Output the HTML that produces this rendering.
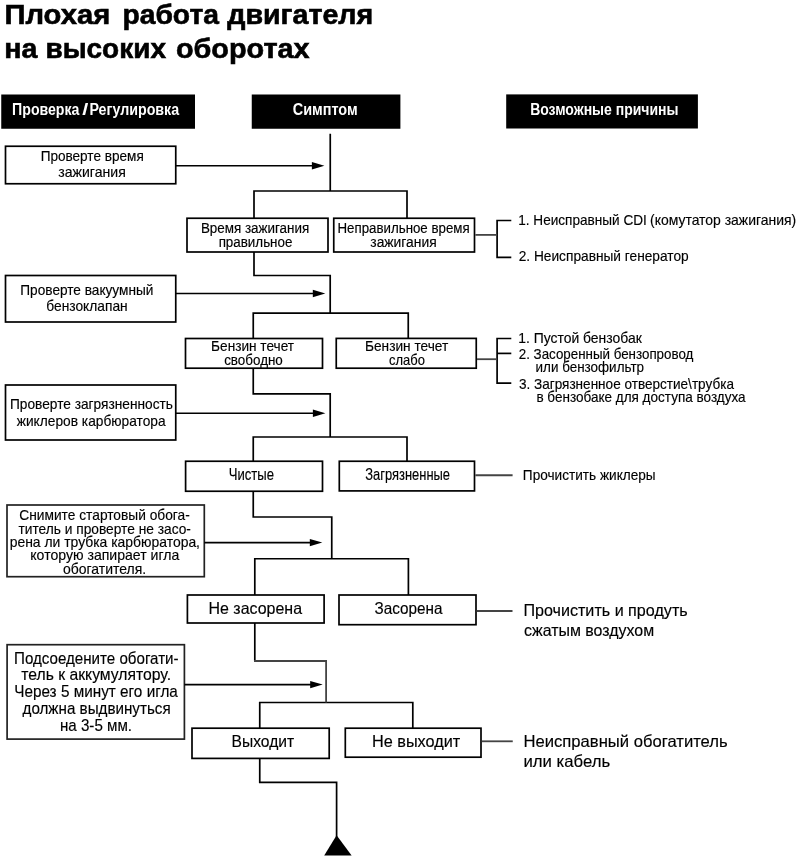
<!DOCTYPE html>
<html lang="ru">
<head>
<meta charset="utf-8">
<title>Плохая работа двигателя на высоких оборотах</title>
<style>
html,body{margin:0;padding:0;background:#fff;}
body{width:800px;height:857px;overflow:hidden;font-family:"Liberation Sans",sans-serif;}
svg{display:block;filter:grayscale(1);}
text{font-family:"Liberation Sans",sans-serif;}
</style>
</head>
<body>
<svg width="800" height="857" viewBox="0 0 800 857">
<rect x="0" y="0" width="800" height="857" fill="#fff"/>
<g fill="#000" stroke="none">
<rect x="1.25" y="94.5" width="193.75" height="34.25"/>
<rect x="251.75" y="94.5" width="148.65" height="34.25"/>
<rect x="506.2" y="94.4" width="191.70" height="34.10"/>
</g>
<g fill="#fff" stroke="#000" stroke-width="1.7">
<rect x="5.5" y="146.25" width="170.25" height="37.50"/>
<rect x="5.5" y="275.5" width="170.25" height="46.50"/>
<rect x="5.5" y="385" width="170.25" height="55.00"/>
<rect x="7.0" y="505" width="197.30" height="71.70" stroke="#222"/>
<rect x="7.1" y="644.7" width="177.30" height="94.40" stroke="#222"/>
<rect x="187" y="218.25" width="141.00" height="33.75"/>
<rect x="333.75" y="218.25" width="140.75" height="33.75"/>
<rect x="185.5" y="338.5" width="137.00" height="29.70"/>
<rect x="336.25" y="338.4" width="140.00" height="29.80"/>
<rect x="185.6" y="461.25" width="136.90" height="30.00"/>
<rect x="339.3" y="461.25" width="135.20" height="29.65"/>
<rect x="187.4" y="595" width="136.70" height="28.00"/>
<rect x="339.0" y="595" width="137.00" height="29.70"/>
<rect x="192.0" y="728.2" width="137.20" height="30.20"/>
<rect x="345.3" y="728.2" width="135.70" height="29.00"/>
</g>
<g fill="none" stroke="#000" stroke-width="1.7" stroke-linejoin="miter">
<polyline points="330.25,133.75 330.25,191"/>
<polyline points="254,218.25 254,191 407,191 407,218.25"/>
<polyline points="254,252 254,275.5 330.2,275.5 330.2,313.1"/>
<polyline points="253.25,338.5 253.25,313.1 408.25,313.1 408.25,338.4"/>
<polyline points="253.25,368 253.25,393.9 330.2,393.9 330.2,437"/>
<polyline points="253.25,461.25 253.25,437 407,437 407,461.25"/>
<polyline points="253.25,491.25 253.25,517 331.75,517 331.75,558.75"/>
<polyline points="254.8,595 254.8,558.75 408.4,558.75 408.4,595"/>
<polyline points="254.8,623 254.8,661"/>
<polyline points="259.75,728.2 259.75,702.5 412.8,702.5 412.8,728.2"/>
<polyline points="259.75,758.4 259.75,782.3 336.6,782.3 336.6,837"/>
<polyline points="175.75,165.75 314,165.75"/>
<polyline points="175.75,293.5 314,293.5"/>
<polyline points="175.75,413.25 314,413.25"/>
<polyline points="204.3,542.6 311,542.6"/>
<polyline points="184.4,684.6 311,684.6"/>
<polyline points="511.3,220.5 497.1,220.5 497.1,257.3 511.3,257.3"/>
<polyline points="511.3,338.5 497.1,338.5 497.1,383.1 511.3,383.1"/>
<polyline points="497.1,353.4 511.3,353.4"/>
</g>
<g fill="none" stroke="#444" stroke-width="1.8">
<polyline points="254,661 326.1,661 326.1,702.5"/>
<polyline points="475.3,234.9 497.1,234.9"/>
<polyline points="477.0,359.2 497.1,359.2"/>
<polyline points="475.3,475.25 512.6,475.25"/>
<polyline points="476.8,611 512.5,611"/>
<polyline points="481.8,741.3 512.75,741.3"/>
</g>
<g fill="#000" stroke="none">
<polygon points="324.4,165.75 311.9,162.05 311.9,169.45"/>
<polygon points="325.3,293.5 312.8,289.8 312.8,297.2"/>
<polygon points="325.4,413.25 312.9,409.55 312.9,416.95"/>
<polygon points="322.3,542.6 309.8,538.9 309.8,546.3000000000001"/>
<polygon points="322.7,684.6 310.2,680.9 310.2,688.3000000000001"/>
<polygon points="336.6,835.2 351.6,855.6 324.2,855.6"/>
</g>
<g>
<text x="4.44" y="24" font-size="27.5" font-weight="bold" stroke="#000" stroke-width="0.6" fill="#000" textLength="105.75" lengthAdjust="spacingAndGlyphs">Плохая</text>
<text x="122.45" y="24" font-size="27.5" font-weight="bold" stroke="#000" stroke-width="0.6" fill="#000" textLength="96.51" lengthAdjust="spacingAndGlyphs">работа</text>
<text x="227.24" y="24" font-size="27.5" font-weight="bold" stroke="#000" stroke-width="0.6" fill="#000" textLength="145.99" lengthAdjust="spacingAndGlyphs">двигателя</text>
<text x="4.22" y="57.5" font-size="27.5" font-weight="bold" stroke="#000" stroke-width="0.6" fill="#000" textLength="33.18" lengthAdjust="spacingAndGlyphs">на</text>
<text x="45.47" y="57.5" font-size="27.5" font-weight="bold" stroke="#000" stroke-width="0.6" fill="#000" textLength="120.49" lengthAdjust="spacingAndGlyphs">высоких</text>
<text x="175.95" y="57.5" font-size="27.5" font-weight="bold" stroke="#000" stroke-width="0.6" fill="#000" textLength="133.68" lengthAdjust="spacingAndGlyphs">оборотах</text>
<text x="12.12" y="114.7" font-size="16" font-weight="bold" fill="#fff" textLength="67.28" lengthAdjust="spacingAndGlyphs">Проверка</text>
<text x="82.26" y="114.7" font-size="16" font-weight="bold" fill="#fff" textLength="6.01" lengthAdjust="spacingAndGlyphs">/</text>
<text x="89.41" y="114.7" font-size="16" font-weight="bold" fill="#fff" textLength="89.72" lengthAdjust="spacingAndGlyphs">Регулировка</text>
<text x="292.72" y="115.0" font-size="16" font-weight="bold" fill="#fff" textLength="64.94" lengthAdjust="spacingAndGlyphs">Симптом</text>
<text x="530.13" y="114.8" font-size="16" font-weight="bold" fill="#fff" textLength="148.34" lengthAdjust="spacingAndGlyphs">Возможные причины</text>
<text x="40.63" y="161.25" font-size="14.5" stroke="#000" stroke-width="0.15" fill="#000" textLength="103.12" lengthAdjust="spacingAndGlyphs">Проверте время</text>
<text x="58.31" y="177" font-size="14.5" stroke="#000" stroke-width="0.15" fill="#000" textLength="67.47" lengthAdjust="spacingAndGlyphs">зажигания</text>
<text x="20.32" y="295" font-size="14.5" stroke="#000" stroke-width="0.15" fill="#000" textLength="133.04" lengthAdjust="spacingAndGlyphs">Проверте вакуумный</text>
<text x="46.29" y="311.25" font-size="14.5" stroke="#000" stroke-width="0.15" fill="#000" textLength="81.38" lengthAdjust="spacingAndGlyphs">бензоклапан</text>
<text x="10.02" y="409.25" font-size="14.5" stroke="#000" stroke-width="0.15" fill="#000" textLength="162.94" lengthAdjust="spacingAndGlyphs">Проверте загрязненность</text>
<text x="16.76" y="425.75" font-size="14.5" stroke="#000" stroke-width="0.15" fill="#000" textLength="148.88" lengthAdjust="spacingAndGlyphs">жиклеров карбюратора</text>
<text x="19.31" y="520.15" font-size="15" stroke="#000" stroke-width="0.15" fill="#000" textLength="170.50" lengthAdjust="spacingAndGlyphs">Снимите стартовый обога-</text>
<text x="18.52" y="533.5" font-size="15" stroke="#000" stroke-width="0.15" fill="#000" textLength="172.39" lengthAdjust="spacingAndGlyphs">титель и проверте не засо-</text>
<text x="9.67" y="546.8" font-size="15" stroke="#000" stroke-width="0.15" fill="#000" textLength="190.33" lengthAdjust="spacingAndGlyphs">рена ли трубка карбюратора,</text>
<text x="30.31" y="560.1" font-size="15" stroke="#000" stroke-width="0.15" fill="#000" textLength="149.03" lengthAdjust="spacingAndGlyphs">которую запирает игла</text>
<text x="63.05" y="573.5" font-size="15" stroke="#000" stroke-width="0.15" fill="#000" textLength="83.14" lengthAdjust="spacingAndGlyphs">обогатителя.</text>
<text x="14.03" y="663.8" font-size="16.2" stroke="#000" stroke-width="0.15" fill="#000" textLength="164.57" lengthAdjust="spacingAndGlyphs">Подсоедените обогати-</text>
<text x="21.26" y="680.4" font-size="16.2" stroke="#000" stroke-width="0.15" fill="#000" textLength="149.75" lengthAdjust="spacingAndGlyphs">тель к аккумулятору.</text>
<text x="14.22" y="697.2" font-size="16.2" stroke="#000" stroke-width="0.15" fill="#000" textLength="163.66" lengthAdjust="spacingAndGlyphs">Через 5 минут его игла</text>
<text x="22.52" y="713.9" font-size="16.2" stroke="#000" stroke-width="0.15" fill="#000" textLength="148.14" lengthAdjust="spacingAndGlyphs">должна выдвинуться</text>
<text x="59.93" y="730.8" font-size="16.2" stroke="#000" stroke-width="0.15" fill="#000" textLength="72.16" lengthAdjust="spacingAndGlyphs">на 3-5 мм.</text>
<text x="200.90" y="233.3" font-size="14" stroke="#000" stroke-width="0.15" fill="#000" textLength="108.34" lengthAdjust="spacingAndGlyphs">Время зажигания</text>
<text x="218.64" y="246.7" font-size="14" stroke="#000" stroke-width="0.15" fill="#000" textLength="73.76" lengthAdjust="spacingAndGlyphs">правильное</text>
<text x="337.51" y="233.3" font-size="14" stroke="#000" stroke-width="0.15" fill="#000" textLength="132.13" lengthAdjust="spacingAndGlyphs">Неправильное время</text>
<text x="370.31" y="246.7" font-size="14" stroke="#000" stroke-width="0.15" fill="#000" textLength="66.39" lengthAdjust="spacingAndGlyphs">зажигания</text>
<text x="211.12" y="351.3" font-size="14.5" stroke="#000" stroke-width="0.15" fill="#000" textLength="82.98" lengthAdjust="spacingAndGlyphs">Бензин течет</text>
<text x="224.14" y="364.6" font-size="14.5" stroke="#000" stroke-width="0.15" fill="#000" textLength="58.70" lengthAdjust="spacingAndGlyphs">свободно</text>
<text x="365.02" y="351.3" font-size="14.5" stroke="#000" stroke-width="0.15" fill="#000" textLength="83.18" lengthAdjust="spacingAndGlyphs">Бензин течет</text>
<text x="388.95" y="364.6" font-size="14.5" stroke="#000" stroke-width="0.15" fill="#000" textLength="35.93" lengthAdjust="spacingAndGlyphs">слабо</text>
<text x="228.71" y="480.4" font-size="15.75" stroke="#000" stroke-width="0.15" fill="#000" textLength="45.29" lengthAdjust="spacingAndGlyphs">Чистые</text>
<text x="365.29" y="480.4" font-size="15.75" stroke="#000" stroke-width="0.15" fill="#000" textLength="84.76" lengthAdjust="spacingAndGlyphs">Загрязненные</text>
<text x="208.49" y="613.9" font-size="16.5" stroke="#000" stroke-width="0.15" fill="#000" textLength="93.53" lengthAdjust="spacingAndGlyphs">Не засорена</text>
<text x="374.51" y="613.9" font-size="16.5" stroke="#000" stroke-width="0.15" fill="#000" textLength="68.01" lengthAdjust="spacingAndGlyphs">Засорена</text>
<text x="231.62" y="746.8" font-size="16.5" stroke="#000" stroke-width="0.15" fill="#000" textLength="62.57" lengthAdjust="spacingAndGlyphs">Выходит</text>
<text x="371.97" y="746.8" font-size="16.5" stroke="#000" stroke-width="0.15" fill="#000" textLength="88.27" lengthAdjust="spacingAndGlyphs">Не выходит</text>
<text x="518.27" y="225" font-size="15" stroke="#000" stroke-width="0.15" fill="#000" textLength="128.55" lengthAdjust="spacingAndGlyphs">1. Неисправный CDI</text>
<text x="650.07" y="225" font-size="15" stroke="#000" stroke-width="0.15" fill="#000" textLength="146.13" lengthAdjust="spacingAndGlyphs">(комутатор зажигания)</text>
<text x="518.71" y="260.8" font-size="15" stroke="#000" stroke-width="0.15" fill="#000" textLength="169.96" lengthAdjust="spacingAndGlyphs">2. Неисправный генератор</text>
<text x="518.24" y="343.1" font-size="15" stroke="#000" stroke-width="0.15" fill="#000" textLength="123.49" lengthAdjust="spacingAndGlyphs">1. Пустой бензобак</text>
<text x="518.73" y="358.5" font-size="15" stroke="#000" stroke-width="0.15" fill="#000" textLength="174.63" lengthAdjust="spacingAndGlyphs">2. Засоренный бензопровод</text>
<text x="535.60" y="372.2" font-size="15" stroke="#000" stroke-width="0.15" fill="#000" textLength="108.44" lengthAdjust="spacingAndGlyphs">или бензофильтр</text>
<text x="518.95" y="388.9" font-size="15" stroke="#000" stroke-width="0.15" fill="#000" textLength="215.00" lengthAdjust="spacingAndGlyphs">3. Загрязненное отверстие\трубка</text>
<text x="536.40" y="402.3" font-size="15" stroke="#000" stroke-width="0.15" fill="#000" textLength="209.17" lengthAdjust="spacingAndGlyphs">в бензобаке для доступа воздуха</text>
<text x="522.87" y="479.7" font-size="15" stroke="#000" stroke-width="0.15" fill="#000" textLength="132.78" lengthAdjust="spacingAndGlyphs">Прочистить жиклеры</text>
<text x="523.38" y="616.3" font-size="16.5" stroke="#000" stroke-width="0.15" fill="#000" textLength="164.29" lengthAdjust="spacingAndGlyphs">Прочистить и продуть</text>
<text x="523.88" y="636.3" font-size="16.5" stroke="#000" stroke-width="0.15" fill="#000" textLength="130.21" lengthAdjust="spacingAndGlyphs">сжатым воздухом</text>
<text x="523.44" y="747" font-size="16.5" stroke="#000" stroke-width="0.15" fill="#000" textLength="204.24" lengthAdjust="spacingAndGlyphs">Неисправный обогатитель</text>
<text x="523.43" y="767" font-size="16.5" stroke="#000" stroke-width="0.15" fill="#000" textLength="86.76" lengthAdjust="spacingAndGlyphs">или кабель</text>
</g>
</svg>
</body>
</html>
